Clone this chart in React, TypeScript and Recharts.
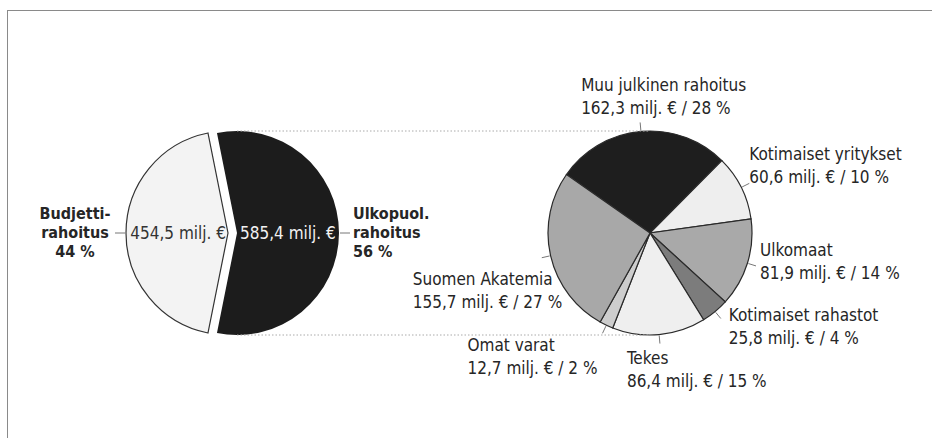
import { PieChart, Pie, Cell } from "recharts";

// Left pie: how the research is funded
const budgetCategories = ["Ulkopuol. rahoitus", "Budjettirahoitus"];
const budgetLabelLines = [["Ulkopuol.", "rahoitus"], ["Budjetti-", "rahoitus"]];
const budgetValues = [585.4, 454.5];
const budgetPercents = [56, 44];

// Right pie: breakdown of the external funding
const sourceCategories = [
  "Muu julkinen rahoitus",
  "Kotimaiset yritykset",
  "Ulkomaat",
  "Kotimaiset rahastot",
  "Tekes",
  "Omat varat",
  "Suomen Akatemia",
];
const sourceValues = [162.3, 60.6, 81.9, 25.8, 86.4, 12.7, 155.7];
const sourcePercents = [28, 10, 14, 4, 15, 2, 27];

const budgetData = budgetCategories.map((name, i) => ({ name, value: budgetValues[i], pct: budgetPercents[i], lines: budgetLabelLines[i] }));
const sourceData = sourceCategories.map((name, i) => ({ name, value: sourceValues[i], pct: sourcePercents[i] }));

const sourceColors = ["#1e1e1e", "#eeeeee", "#a9a9a9", "#7c7c7c", "#efefef", "#cdcdcd", "#a8a8a8"];
// text block offsets from the end of each leader line [dx, dy of first baseline]
const sourceLabelOffsets = [[-59, -31], [0, -23], [4, -10], [8, 3], [-33, 20], [-135, 18], [-129, 27]];

const FONT = '"DejaVu Sans Condensed", "Liberation Sans Narrow", sans-serif';
const FS = 17;
const INK = "#262626";
const R = 102;
const CY = 233;
const LEFT_CX = 237;
const EXPLODE = 9;
const RIGHT_CX = 650;

const fmt = (v: number) => `${v.toFixed(1).replace(".", ",")} milj. €`;
const RAD = Math.PI / 180;

const total = budgetValues.reduce((a, b) => a + b, 0);
const leftStart = (180 * budgetValues[0]) / total;

const BoldBlock = ({ x, cy, lines, anchor }: { x: number; cy: number; lines: string[]; anchor: string }) => (
  <text fontSize={16} fontWeight="bold" fontFamily={FONT} fill={INK} textAnchor={anchor}>
    <tspan x={x} y={cy - 14}>{lines[0]}</tspan>
    <tspan x={x} y={cy + 5}>{lines[1]}</tspan>
    <tspan x={x} y={cy + 24}>{lines[2]}</tspan>
  </text>
);

const renderBudgetLabel = (props: any) => {
  const { cx, cy, outerRadius, index } = props;
  const d = budgetData[index];
  if (index !== 0) return null;
  // dark half: value inside, bold label to the right, dotted connectors to right pie
  const lx = cx + outerRadius;
  return (
    <g>
      <line x1={cx} y1={cy - outerRadius} x2={RIGHT_CX} y2={cy - outerRadius} stroke="#aaa" strokeDasharray="1.5 2" />
      <line x1={cx} y1={cy + outerRadius} x2={RIGHT_CX} y2={cy + outerRadius} stroke="#aaa" strokeDasharray="1.5 2" />
      <text x={cx + 3} y={cy + 6} fill="#f2f2f2" fontSize={FS} fontFamily={FONT}>{fmt(d.value)}</text>
      <line x1={lx + 1} y1={cy} x2={lx + 11} y2={cy} stroke="#777" />
      <BoldBlock x={lx + 14} cy={cy} lines={[...d.lines, `${d.pct} %`]} anchor="start" />
    </g>
  );
};

const renderBudgetLabelWhite = (props: any) => {
  const { cx, cy, outerRadius, index } = props;
  const d = budgetData[index];
  if (index !== 1) return null;
  const lx = cx - outerRadius;
  return (
    <g>
      <text x={cx - 2} y={cy + 6} fill="#333" textAnchor="end" fontSize={FS} fontFamily={FONT}>{fmt(d.value)}</text>
      <line x1={lx - 1} y1={cy} x2={lx - 11} y2={cy} stroke="#777" />
      <BoldBlock x={lx - 51} cy={cy} lines={[...d.lines, `${d.pct} %`]} anchor="middle" />
    </g>
  );
};

const renderSourceLabel = (props: any) => {
  const { cx, cy, outerRadius, midAngle, index } = props;
  const d = sourceData[index];
  const cos = Math.cos(-midAngle * RAD);
  const sin = Math.sin(-midAngle * RAD);
  const sx = cx + (outerRadius + 1) * cos;
  const sy = cy + (outerRadius + 1) * sin;
  const ex = cx + (outerRadius + 9) * cos;
  const ey = cy + (outerRadius + 9) * sin;
  const [dx, dy] = sourceLabelOffsets[index];
  return (
    <g>
      <line x1={sx} y1={sy} x2={ex} y2={ey} stroke="#777" />
      <text fontSize={FS} fontFamily={FONT} fill={INK}>
        <tspan x={ex + dx} y={ey + dy}>{d.name}</tspan>
        <tspan x={ex + dx} y={ey + dy + 23}>{`${fmt(d.value)} /  ${d.pct} %`}</tspan>
      </text>
    </g>
  );
};

export default function App() {
  return (
    <div style={{ position: "absolute", left: 0, top: 0, width: 932, height: 438, background: "#fff", overflow: "hidden" }}>
      <div style={{ position: "absolute", left: 7, top: 10, width: 940, height: 440, borderLeft: "1.5px solid #8a8a8a", borderTop: "1.5px solid #8a8a8a" }} />
      <PieChart width={932} height={438} margin={{ top: 0, right: 0, bottom: 0, left: 0 }} style={{ position: "absolute", left: 0, top: 0 }}>
        <Pie
          data={budgetData}
          dataKey="value"
          cx={LEFT_CX}
          cy={CY}
          outerRadius={R}
          startAngle={leftStart}
          endAngle={leftStart - 360}
          label={renderBudgetLabel}
          labelLine={false}
          isAnimationActive={false}
        >
          <Cell fill="#1c1c1c" stroke="none" />
          <Cell fill="none" stroke="none" />
        </Pie>
        <Pie
          data={budgetData}
          dataKey="value"
          cx={LEFT_CX - EXPLODE}
          cy={CY}
          outerRadius={R}
          startAngle={leftStart}
          endAngle={leftStart - 360}
          label={renderBudgetLabelWhite}
          labelLine={false}
          isAnimationActive={false}
        >
          <Cell fill="none" stroke="none" />
          <Cell fill="#f3f3f3" stroke="#333" strokeWidth={1.2} />
        </Pie>
        <Pie
          data={sourceData}
          dataKey="value"
          cx={RIGHT_CX}
          cy={CY}
          outerRadius={R}
          startAngle={145}
          endAngle={-215}
          stroke="#2a2a2a"
          strokeWidth={1.2}
          label={renderSourceLabel}
          labelLine={false}
          isAnimationActive={false}
        >
          {sourceData.map((entry, i) => (
            <Cell key={entry.name} fill={sourceColors[i]} />
          ))}
        </Pie>
      </PieChart>
    </div>
  );
}
